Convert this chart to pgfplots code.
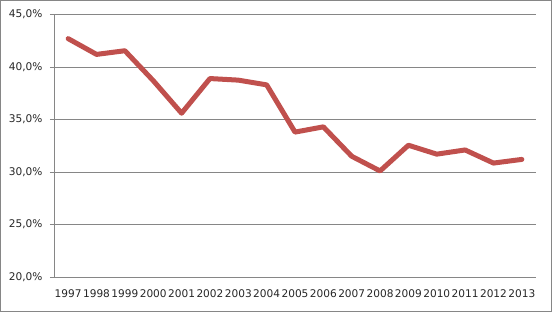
\documentclass[border=0pt]{standalone}
\usepackage{pgfplots}
\pgfplotsset{compat=1.18}
\usepackage{fontspec}
\setmainfont{DejaVu Sans}
\definecolor{linered}{RGB}{192,80,77}
\definecolor{gridgray}{RGB}{134,134,134}
\begin{document}
\begin{tikzpicture}[x=1bp,y=1bp]
\useasboundingbox (-54,-35) rectangle (498,277);
\draw[gridgray,line width=1bp] (-53.5,-34.5) rectangle (497.5,276.5);
\begin{axis}[
  at={(0,0)}, anchor=south west,
  scale only axis, width=482bp, height=262.5bp,
  xmin=-0.5, xmax=16.5, ymin=20, ymax=45,
  axis x line*=bottom, axis y line*=left,
  axis line style={gridgray, line width=0.8bp, -},
  xtick={0,...,16},
  xticklabels={1997,1998,1999,2000,2001,2002,2003,2004,2005,2006,2007,2008,2009,2010,2011,2012,2013},
  major x tick style={draw=none},
  extra x ticks={-0.5,0.5,...,16.5},
  extra x tick labels={},
  extra x tick style={tick style={draw=gridgray, line width=0.8bp}, major tick length=4bp, tick align=outside, grid=none},
  ytick={20,25,30,35,40,45},
  yticklabels={{20,0\%},{25,0\%},{30,0\%},{35,0\%},{40,0\%},{45,0\%}},
  ymajorgrids, grid style={gridgray, line width=0.8bp},
  y tick style={draw=gridgray, line width=0.8bp}, major tick length=4bp, tick align=outside,
  tick label style={font=\fontsize{10.6}{12}\selectfont, text=black!85},
  xticklabel style={yshift=-5bp},
  yticklabel style={xshift=-4bp},
  clip=false,
]
\addplot[linered, line width=5bp, line join=round, line cap=round] coordinates {
(0,42.7) (1,41.2) (2,41.55) (3,38.7) (4,35.6) (5,38.9) (6,38.75) (7,38.3)
(8,33.8) (9,34.3) (10,31.5) (11,30.1) (12,32.55) (13,31.7) (14,32.1) (15,30.85) (16,31.2)
};
\end{axis}
\end{tikzpicture}
\end{document}
